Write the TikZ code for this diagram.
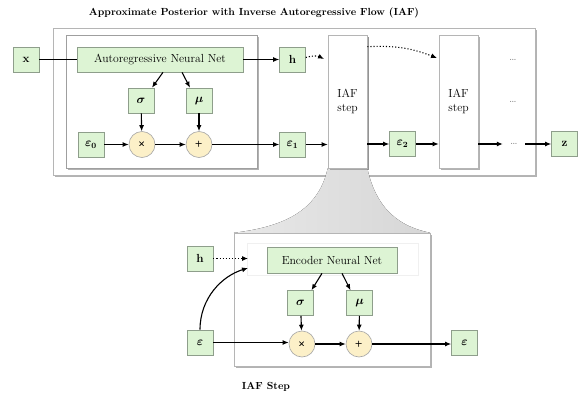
\documentclass[tikz,border=0pt]{standalone}
\usepackage{amsmath}
\usepackage{bm}
\usetikzlibrary{arrows.meta,shadows,calc}
\definecolor{nodegreen}{HTML}{DDF4D4}
\definecolor{nodeborder}{HTML}{8E9E8B}
\definecolor{opyellow}{HTML}{FCF0C8}
\definecolor{boxborder}{HTML}{B5B5B5}
\newcommand{\myfs}{\fontsize{11.7}{13.5}\selectfont}
\newcommand{\tfs}{\fontsize{10.3}{12}\selectfont}
\newcommand{\opfs}{\fontsize{9}{10}\selectfont}
\begin{document}
\begin{tikzpicture}[x=1pt,y=-1pt,
  gbox/.style={draw=nodeborder, fill=nodegreen, minimum width=26pt, minimum height=25pt, inner sep=0pt, font=\myfs\bfseries, line width=0.6pt, drop shadow={shadow xshift=0.8pt, shadow yshift=-0.8pt, opacity=0.35, fill=gray}},
  opc/.style={circle, draw=gray!70, fill=opyellow, minimum size=26pt, inner sep=0pt, font=\opfs\bfseries, line width=0.6pt},
  frame/.style={draw=boxborder, fill=white, line width=0.6pt, inner sep=0pt, drop shadow={shadow xshift=1.6pt, shadow yshift=-1.6pt, opacity=0.6, fill=gray}},
  iaf/.style={frame, minimum width=39pt, minimum height=133pt, align=center, font=\myfs},
  arr/.style={-{Latex[length=6pt,width=5pt]}, line width=1.1pt},
  dotarr/.style={arr, dotted},
  dotsnode/.style={text=gray, minimum width=22pt, inner sep=0pt, font=\myfs}
]
\useasboundingbox (0,0) rectangle (578,396);

% title
\node[font=\tfs\bfseries] (title) at (254,13) {Approximate Posterior with Inverse Autoregressive Flow (IAF)};

% outer frame
\node[frame, minimum width=482pt, minimum height=147pt] (outer) at (294,101.5) {};

% IAF step 1 (anchors for funnel)
\path (347.5,101.5) node[iaf] (iaf1) {IAF\\step};

% funnel
\node[minimum width=196pt, minimum height=133pt, inner sep=0pt] (lowpos) at (332,299.5) {};
\fill[left color=gray!18, right color=gray!32] (iaf1.south west) .. controls (318,212) and (282,227) .. (lowpos.north west) -- (lowpos.north east) .. controls (402,227) and (377,212) .. (iaf1.south east) -- cycle;

% IAF steps on top of funnel
\node[iaf] (iaf1b) at (347.5,101.5) {IAF\\step};
\node[iaf] (iaf2) at (458.5,101.5) {IAF\\step};

% inner frame
\node[frame, draw=gray!75, minimum width=191pt, minimum height=133pt] (inner) at (161.5,101.5) {};

% top nodes
\node[gbox] (x) at (26,59.5) {x};
\node[gbox, minimum width=166pt, font=\myfs] (arnn) at (160,59.5) {Autoregressive Neural Net};
\node[gbox] (h) at (292.5,59.5) {h};
\node[gbox] (sig) at (141,100.5) {$\bm{\sigma}$};
\node[gbox] (mu) at (199,100.5) {$\bm{\mu}$};
\node[gbox] (e0) at (91,144.5) {$\bm{\varepsilon}_{\bm 0}$};
\node[opc] (mul) at (142,144.5) {$\pmb\times$};
\node[opc] (add) at (199,144.5) {$\pmb +$};
\node[gbox] (e1) at (292.5,144.5) {$\bm{\varepsilon}_{\bm 1}$};
\node[gbox] (e2) at (402.5,144) {$\bm{\varepsilon}_{\bm 2}$};
\node[gbox] (z) at (564.5,144) {z};
\node[dotsnode] (d1) at (513,60) {\dots};
\node[dotsnode] (d2) at (513,102) {\dots};
\node[dotsnode] (d3) at (514,144) {\dots};

\coordinate (hin) at (324,59);
\coordinate (iaf2in) at (437,58);

\draw[line width=1.1pt] (x) -- (arnn);
\draw[arr] (arnn) -- (h);
\draw[arr] ($(arnn.south)+(3,0)$) -- ($(sig.north)+(11,0)$);
\draw[arr] ($(arnn.south)+(22,0)$) -- ($(mu.north)+(-9,0)$);
\draw[arr] (sig) -- (mul);
\draw[arr] (mu) -- (add);
\draw[arr] (e0) -- (mul);
\draw[arr] (mul) -- (add);
\draw[arr] (add) -- (e1);
\draw[arr] (e1.east) -- (e1.east -| iaf1b.west);
\draw[arr] (e2.west -| iaf1b.east) -- (e2.west);
\draw[arr] (e2.east) -- (e2.east -| iaf2.west);
\draw[arr] (d3.west -| iaf2.east) -- (d3.west);
\draw[arr] (d3.east) -- (z.west);
\draw[dotarr] ($(h.east)+(0,-2)$) to[bend left=22] (hin);
\draw[dotarr] ($(iaf1b.north east)+(0,12)$) to[bend left=12] (iaf2in);

% lower frame
\node[frame, minimum width=196pt, minimum height=133pt] (low) at (332,299.5) {};
\draw[gray!12, line width=0.5pt] (247,243) rectangle (418,275);

\node[gbox] (h2) at (200,258.5) {h};
\node[gbox, minimum width=130pt, minimum height=26pt, font=\myfs] (enc) at (332,260) {Encoder Neural Net};
\node[gbox] (sig2) at (300.5,303) {$\bm{\sigma}$};
\node[gbox] (mu2) at (359.5,303) {$\bm{\mu}$};
\node[gbox] (eps) at (200,342.5) {$\bm{\varepsilon}$};
\node[opc] (mul2) at (302,344) {$\pmb\times$};
\node[opc] (add2) at (359,344) {$\pmb +$};
\node[gbox] (epso) at (464.5,342.5) {$\bm{\varepsilon}$};

\coordinate (h2in) at (248,258.5);
\coordinate (ein) at (248,268);

\draw[dotarr] (h2) -- (h2in);
\draw[arr] (eps.north) .. controls (200,298) and (222,276) .. (ein);
\draw[arr] (eps.east) -- (eps.east -| mul2.west);
\draw[arr] (mul2) -- (add2);
\draw[arr] (add2.east) -- (add2.east -| epso.west);
\draw[arr] (sig2) -- (mul2);
\draw[arr] (mu2) -- (add2);
\draw[arr] ($(enc.south)+(-10,0)$) -- ($(sig2.north)+(11,0)$);
\draw[arr] ($(enc.south)+(10,0)$) -- ($(mu2.north)+(-9,0)$);

\node[font=\tfs\bfseries] (steplabel) at (266,387) {IAF Step};
\end{tikzpicture}
\end{document}
